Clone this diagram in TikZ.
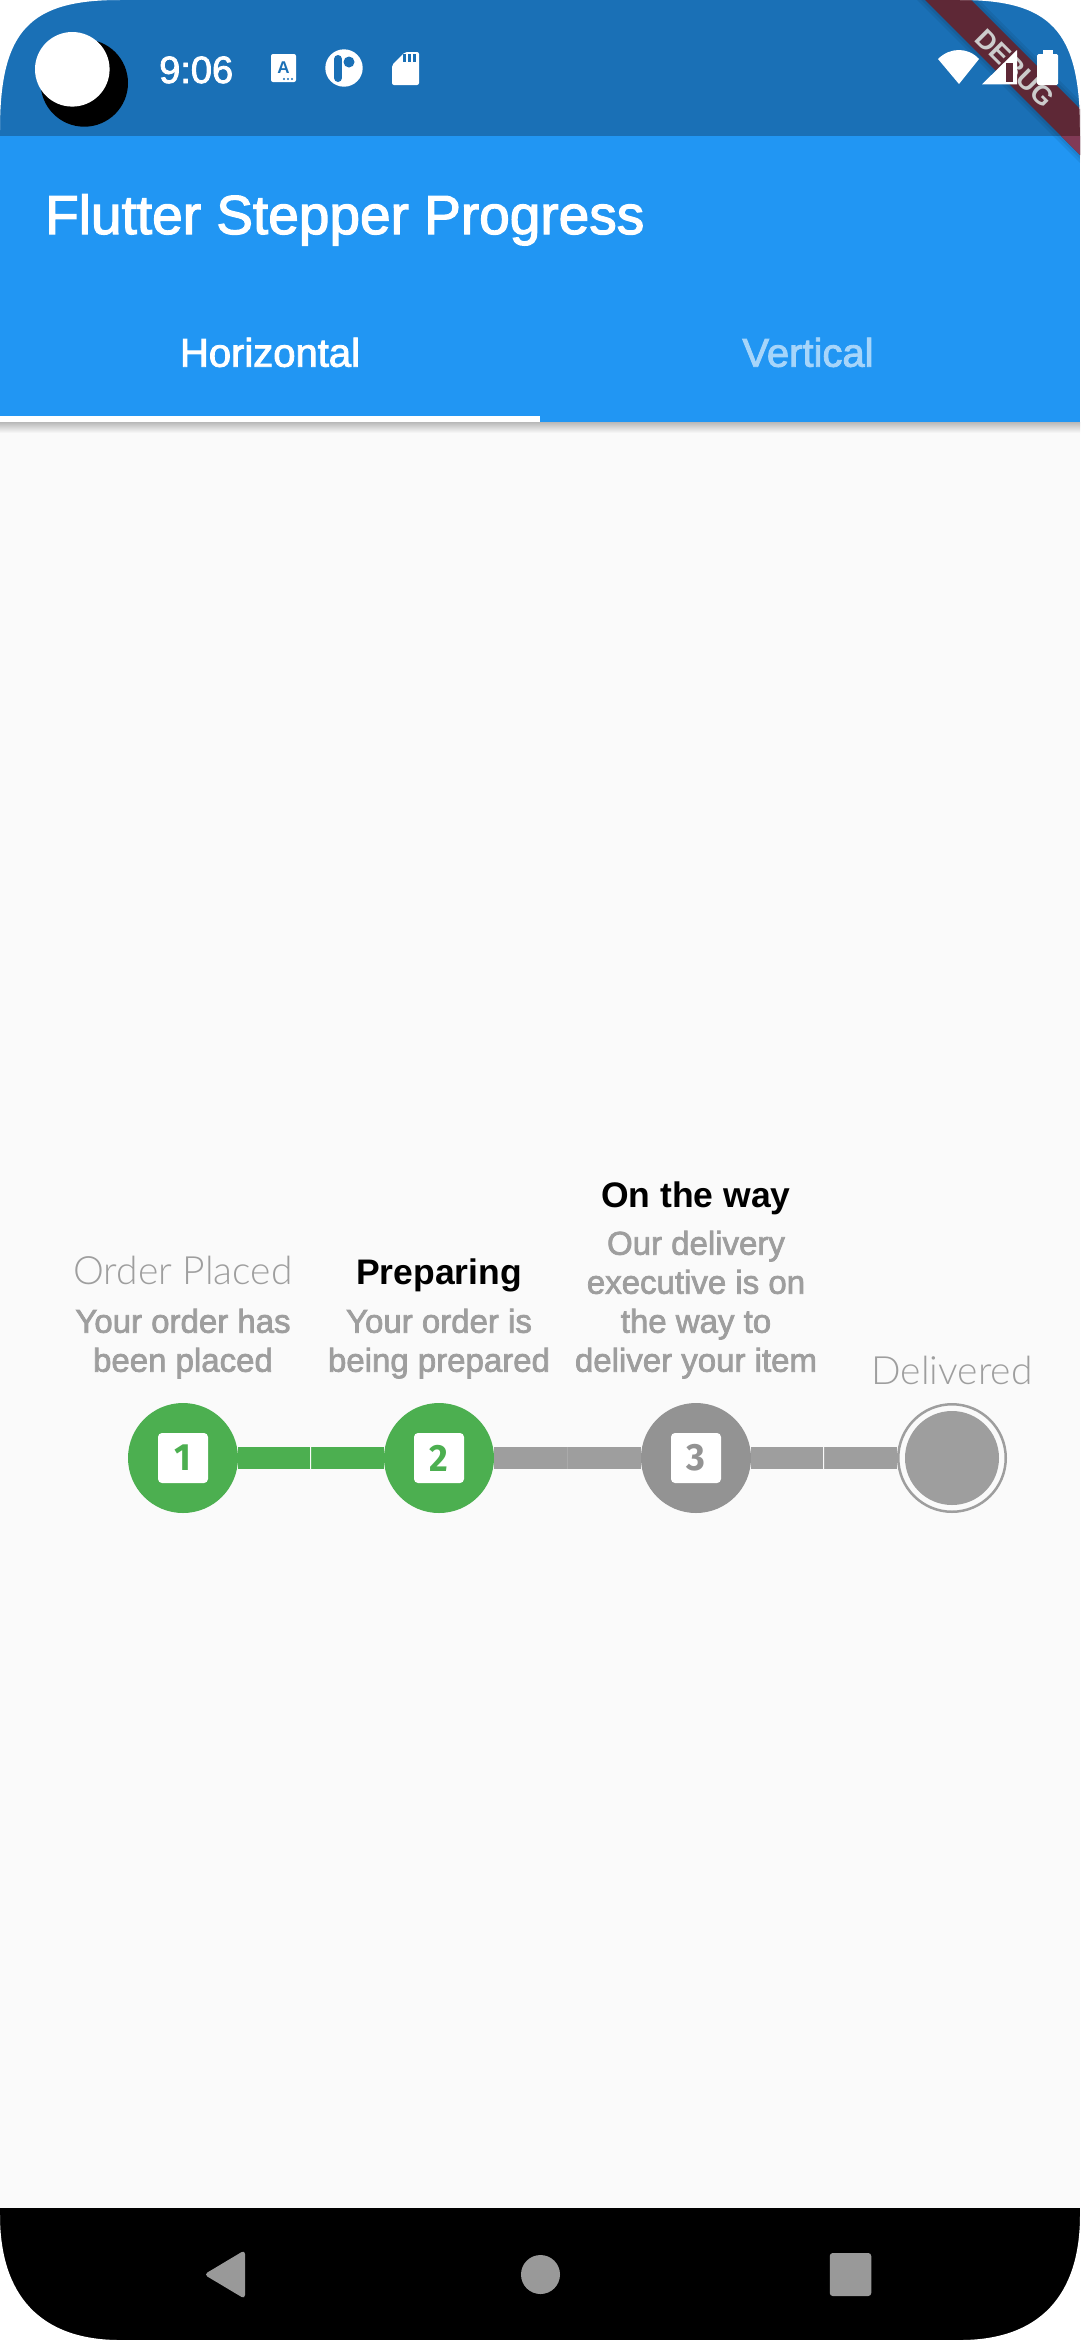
\documentclass[tikz,border=0pt]{standalone}
\usepackage{fontspec}
\setmainfont{Liberation Sans}
\newfontfamily\mediumfont[FakeBold=2.2]{Liberation Sans}
\newfontfamily\lightfont{Lato Light}
\newfontfamily\digitfont[FakeStretch=0.95]{Fira Sans}
\usetikzlibrary{calc,positioning}

\definecolor{pagebg}{HTML}{FAFAFA}
\definecolor{statusblue}{HTML}{1A70B6}
\definecolor{barblue}{HTML}{2196F3}
\definecolor{tabfaded}{HTML}{A6D5FA}
\definecolor{stepgreen}{HTML}{4CAF50}
\definecolor{stepgrey}{HTML}{939393}
\definecolor{linkgrey}{HTML}{9E9E9E}
\definecolor{navgrey}{HTML}{999999}
\definecolor{bannerdark}{HTML}{5E2836}
\definecolor{bannerlight}{HTML}{813A56}

\tikzset{
  stepdot/.style={circle,inner sep=0pt,minimum size=110pt},
  digitbox/.style={fill=white,rounded corners=4pt,inner sep=0pt,minimum size=50pt,
    font=\digitfont\bfseries\fontsize{38}{38}\selectfont},
  donelink/.style={stepgreen,line width=22pt},
  todolink/.style={linkgrey,line width=22pt},
  seamtick/.style={inner sep=0pt,minimum width=0.8pt,minimum height=22pt},
  titletext/.style={anchor=base,text=linkgrey,font=\lightfont\fontsize{39}{39}\selectfont},
  activetext/.style={anchor=base,text=black,font=\bfseries\fontsize{35.5}{36}\selectfont},
  desctext/.style={anchor=base,align=center,text=linkgrey,font=\mediumfont\fontsize{33}{39}\selectfont},
  tabtext/.style={anchor=base,font=\mediumfont\fontsize{40}{40}\selectfont}
}

\begin{document}
\begin{tikzpicture}[x=1pt,y=-1pt]
\useasboundingbox (0,0) rectangle (1080,2340);

\fill[pagebg] (0,0) rectangle (1080,2340);
\fill[statusblue] (0,0) rectangle (1080,136);
\shade[top color=black!28,bottom color=pagebg] (0,422) rectangle (1080,433);
\fill[barblue] (0,136) rectangle (1080,422);
\fill[white] (0,416) rectangle (540,422);

\node[anchor=base west,inner sep=0pt,text=white,font=\mediumfont\fontsize{55}{55}\selectfont] (apptitle) at (45,234) {Flutter Stepper Progress};
\node[tabtext,text=white] (tabhorizontal) at (270,366.7) {Horizontal};
\node[tabtext,text=tabfaded] (tabvertical) at (808,366.7) {Vertical};

\fill[black,opacity=0.07] (917,0) -- (979,0) -- (1080,101) -- (1080,163) -- cycle;
\fill[black,opacity=0.07] (921,0) -- (975,0) -- (1080,105) -- (1080,159) -- cycle;
\fill[bannerdark] (925,0) -- (971,0) -- (1080,109) -- (1080,155) -- cycle;
\fill[bannerlight] (1061,136) -- (1080,136) -- (1080,155) -- cycle;
\node[rotate=-45,text=black!20,font=\bfseries\fontsize{27}{27}\selectfont] (debugtag) at (1015,68) {DEBUG};

\node[anchor=base west,inner sep=0pt,text=white,font=\mediumfont\fontsize{38}{38}\selectfont] (clock) at (159,83) {9:06};
\fill[white,rounded corners=2pt] (271,54) rectangle (296,82);
\node[inner sep=0pt,text=statusblue,font=\bfseries\fontsize{17}{17}\selectfont] (keyboardA) at (283.5,68) {A};
\foreach \dotx in {284,288,292}
  \fill[statusblue] (\dotx,79) circle[radius=1.2];
\fill[white] (344,68) circle[radius=18.7];
\draw[statusblue,line width=8pt,line cap=round] (338,59) -- (338,78);
\fill[statusblue] (349,62) circle[radius=5.5];
\fill[white,rounded corners=2pt] (392,65) -- (405,52) -- (419,52) -- (419,85) -- (392,85) -- cycle;
\foreach \barx in {402.5,407.5,412.5}
  \fill[statusblue] (\barx,54) rectangle ++(3.4,8);
\fill[white] (959,84) -- (938,59) .. controls (950,47) and (968,47) .. (979,59) -- cycle;
\fill[white] (982,84.3) -- (1017,84.3) -- (1017,50) -- cycle;
\fill[bannerdark] (1006,63) rectangle (1013,82);
\fill[white,rounded corners=1.5pt] (1037,54) rectangle (1058,85);
\fill[white] (1043,50) rectangle (1053,55);

\node[stepdot,fill=stepgreen] (stepone) at (183,1458) {};
\node[stepdot,fill=stepgreen] (steptwo) at (439,1458) {};
\node[stepdot,fill=stepgrey] (stepthree) at (696,1458) {};
\node[circle,inner sep=0pt,minimum size=107.5pt,draw=linkgrey,line width=2.5pt,fill=pagebg] (stepfour) at (952,1458) {};
\node[circle,inner sep=0pt,minimum size=94pt,fill=linkgrey] (stepfourdot) at (stepfour) {};

\node[digitbox,text=stepgreen] (boxone) at (stepone) {1};
\node[digitbox,text=stepgreen] (boxtwo) at (steptwo) {2};
\node[digitbox,text=stepgrey] (boxthree) at (stepthree) {3};

\node[seamtick,fill=stepgreen!88!white] (seamone) at ($(stepone)!0.5!(steptwo)$) {};
\node[seamtick,fill=linkgrey!88!white] (seamtwo) at ($(steptwo)!0.5!(stepthree)$) {};
\node[seamtick,fill=linkgrey!88!white] (seamthree) at ($(stepthree)!0.5!(stepfour)$) {};
\draw[donelink] (stepone) -- (seamone);
\draw[donelink] (seamone) -- (steptwo);
\draw[todolink] (steptwo) -- (seamtwo);
\draw[todolink] (seamtwo) -- (stepthree);
\draw[todolink] (stepthree) -- (seamthree);
\draw[todolink] (seamthree) -- (stepfour);

\node[titletext] (titleone) at (183,1284.3) {Order Placed};
\node[desctext] (descone) at (183,1371.7) {Your order has\\been placed};
\node[activetext] (titletwo) at (439,1284.3) {Preparing};
\node[desctext] (desctwo) at (439,1371.7) {Your order is\\being prepared};
\node[activetext] (titlethree) at (696,1207) {On the way};
\node[desctext] (descthree) at (696,1371.7) {Our delivery\\executive is on\\the way to\\deliver your item};
\node[titletext] (titlefour) at (952,1384) {Delivered};

\fill[black] (0,2208) rectangle (1080,2340);
\fill[white] (0,2215) .. controls (0,2295) and (40,2340) .. (120,2340) -- (0,2340) -- cycle;
\fill[white] (1080,2215) .. controls (1080,2295) and (1040,2340) .. (960,2340) -- (1080,2340) -- cycle;
\fill[navgrey,rounded corners=4pt] (245,2250) -- (204,2274.5) -- (245,2299) -- cycle;
\node[circle,inner sep=0pt,minimum size=39pt,fill=navgrey] (navhome) at (540.5,2274.5) {};
\node[inner sep=0pt,minimum width=41.5pt,minimum height=43pt,rounded corners=3pt,fill=navgrey] (navrecent) at (850.5,2274.5) {};

\fill[white] (0,0) -- (120,0) .. controls (30,0) and (0,30) .. (0,130) -- cycle;
\fill[white] (1080,0) -- (960,0) .. controls (1050,0) and (1080,30) .. (1080,130) -- cycle;
\fill[black] (84.3,83) circle[radius=43.7];
\fill[white] (72.3,69.3) circle[radius=37.3];
\end{tikzpicture}
\end{document}
